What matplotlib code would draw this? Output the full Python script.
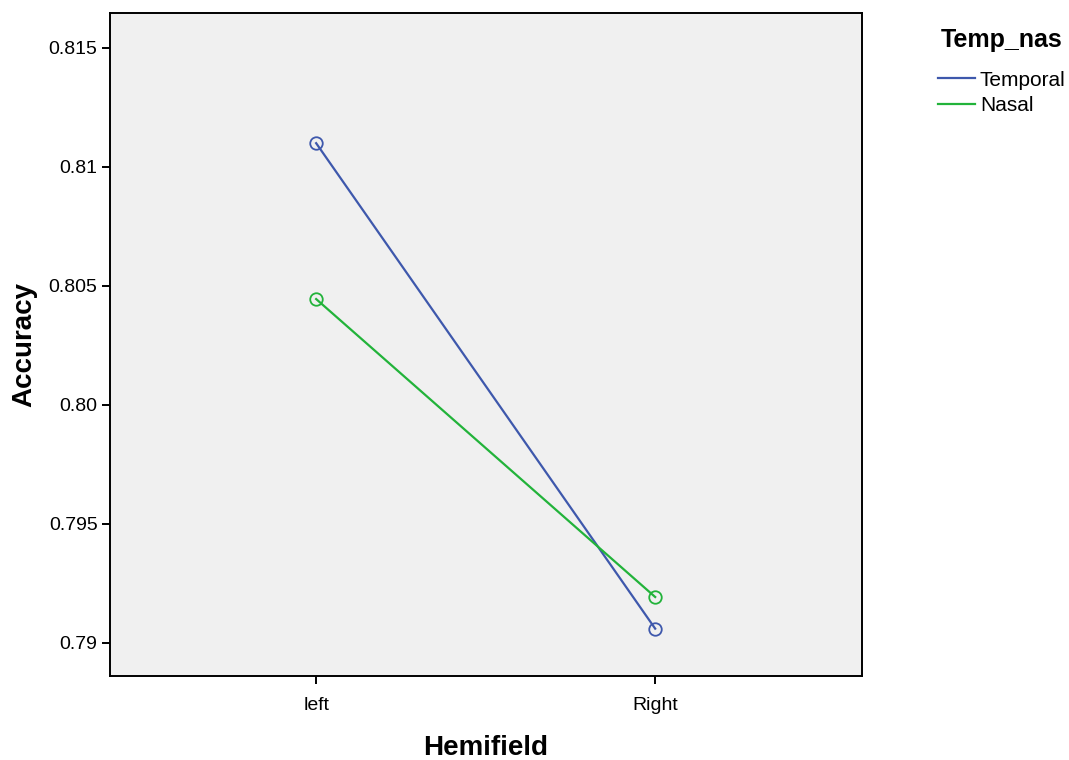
import matplotlib
matplotlib.use("Agg")
from matplotlib import pyplot as plt
from matplotlib.lines import Line2D

hemifield = ["left", "Right"]
temporal = [0.8110, 0.7906]
nasal = [0.80445, 0.79193]
y_ticks = [0.79, 0.795, 0.80, 0.805, 0.81, 0.815]
y_tick_labels = ["0.79", "0.795", "0.80", "0.805", "0.81", "0.815"]

plt.rcParams['font.family'] = ['Liberation Sans', 'DejaVu Sans']

blue = '#3e58ac'
green = '#22b33a'

fig = plt.figure(figsize=(10.69, 7.6), dpi=100)
ax = fig.add_axes([110 / 1069, 1 - 676 / 760, 752 / 1069, 663 / 760])
ax.set_facecolor('#f0f0f0')

x = list(range(len(hemifield)))
ax.plot(x, temporal, color=blue, lw=1.6, marker='o', ms=9, mfc='none', mew=1.3)
ax.plot(x, nasal, color=green, lw=1.6, marker='o', ms=9, mfc='none', mew=1.3)

ax.set_xlim(-0.608, 1.61)
ax.set_ylim(0.78861, 0.81647)
ax.set_xticks(x)
ax.set_xticklabels(hemifield)
ax.set_yticks(y_ticks)
ax.set_yticklabels(y_tick_labels)
ax.tick_params(direction='out', length=6, width=1.4, labelsize=14)
ax.tick_params(axis='x', pad=9)
ax.tick_params(axis='y', pad=3)
for s in ax.spines.values():
    s.set_linewidth(1.4)

ax.set_xlabel("Hemifield", fontsize=20, fontweight='bold', labelpad=15.5)
ax.set_ylabel("Accuracy", fontsize=20, fontweight='bold', labelpad=8)

# legend, title drawn separately
fig.text(941 / 1069, 1 - 40 / 760, "Temp_nas", fontsize=18, fontweight='bold', va='center', ha='left')
handles = [Line2D([], [], color=blue, lw=1.6), Line2D([], [], color=green, lw=1.6)]
fig.legend(handles, ["Temporal", "Nasal"], loc='upper left', bbox_to_anchor=(919 / 1069, 1 - 52 / 760),
           frameon=False, fontsize=15, handlelength=1.78, handletextpad=0.24, labelspacing=0.3)

fig.savefig("out.png", dpi=100)
